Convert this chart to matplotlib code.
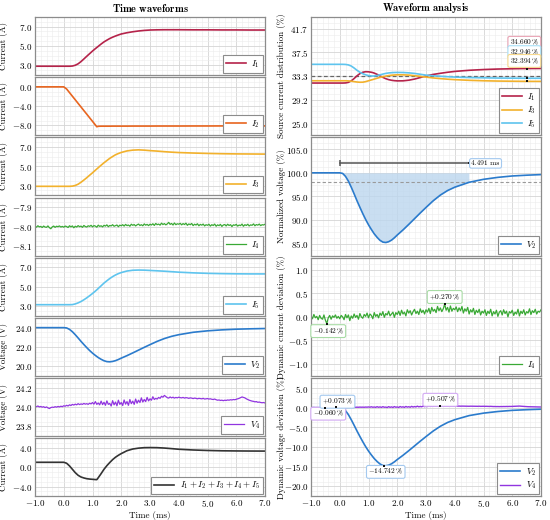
import numpy as np
import matplotlib
matplotlib.use("Agg")
import matplotlib.pyplot as plt
from matplotlib.ticker import FixedLocator, MultipleLocator, AutoMinorLocator, FuncFormatter

plt.rcParams.update({
    "font.family": "serif",
    "font.serif": ["cmr10"],
    "mathtext.fontset": "cm",
    "axes.unicode_minus": False,
    "axes.formatter.use_mathtext": True,
})

# ---- smooth waveforms (time in ms) ----
t = [-1.0, -0.5, 0.0, 0.1, 0.2, 0.3, 0.4, 0.5, 0.6, 0.7, 0.8, 0.9, 1.0, 1.1, 1.15,
     1.2, 1.3, 1.4, 1.5, 1.6, 1.7, 1.8, 1.9, 2.0, 2.2, 2.4, 2.6, 2.8, 3.0,
     3.25, 3.5, 3.75, 4.0, 4.5, 5.0, 5.5, 6.0, 6.5, 7.0]

i1 = [2.9, 2.9, 2.9, 2.9, 2.9, 2.92, 3.0, 3.15, 3.38, 3.65, 3.93, 4.2, 4.47, 4.72, 4.84,
      4.96, 5.2, 5.42, 5.6, 5.77, 5.91, 6.03, 6.14, 6.24, 6.37, 6.47, 6.55, 6.61, 6.65,
      6.67, 6.68, 6.68, 6.68, 6.67, 6.67, 6.66, 6.66, 6.65, 6.65]
i2 = [0.0, 0.0, 0.0, -0.45, -1.19, -1.94, -2.68, -3.43, -4.17, -4.92, -5.66, -6.41, -7.15, -7.9, -8.27,
      -8.17, -8.15, -8.15, -8.15, -8.15, -8.14, -8.14, -8.14, -8.14, -8.14, -8.13, -8.13, -8.13, -8.13,
      -8.12, -8.12, -8.12, -8.12, -8.11, -8.11, -8.1, -8.1, -8.1, -8.1]
i3 = [2.93, 2.93, 2.93, 2.93, 2.93, 2.95, 3.02, 3.15, 3.35, 3.58, 3.82, 4.08, 4.33, 4.6, 4.73,
      4.86, 5.12, 5.37, 5.6, 5.83, 6.02, 6.2, 6.33, 6.44, 6.6, 6.68, 6.71, 6.68, 6.63,
      6.58, 6.52, 6.47, 6.43, 6.38, 6.34, 6.31, 6.29, 6.28, 6.27]
i5 = [3.14, 3.14, 3.14, 3.14, 3.14, 3.15, 3.22, 3.33, 3.47, 3.65, 3.85, 4.07, 4.3, 4.55, 4.68,
      4.82, 5.1, 5.38, 5.62, 5.85, 6.05, 6.22, 6.36, 6.47, 6.63, 6.71, 6.73, 6.72, 6.69,
      6.65, 6.61, 6.56, 6.51, 6.44, 6.39, 6.36, 6.34, 6.33, 6.33]
v2 = [24.0, 24.0, 24.0, 23.97, 23.82, 23.58, 23.27, 22.93, 22.58, 22.25, 21.93, 21.63, 21.36, 21.12, 21.01,
      20.9, 20.72, 20.57, 20.48, 20.46, 20.5, 20.58, 20.7, 20.84, 21.1, 21.38, 21.67, 21.96, 22.24,
      22.58, 22.87, 23.1, 23.27, 23.52, 23.67, 23.77, 23.84, 23.88, 23.91]
i_sum = [1.05, 1.05, 1.05, 0.85, 0.3, -0.4, -1.1, -1.65, -2.0, -2.2, -2.35, -2.43, -2.48, -2.53, -2.55,
         -2.15, -1.3, -0.4, 0.35, 1.0, 1.6, 2.1, 2.5, 2.85, 3.45, 3.8, 3.98, 4.08, 4.1,
         4.08, 4.0, 3.88, 3.75, 3.6, 3.5, 3.43, 3.4, 3.38, 3.37]

# source current distribution (%)
share_i1 = [32.1, 32.1, 32.1, 32.1, 32.12, 32.22, 32.48, 32.9, 33.37, 33.76, 34.0, 34.1, 34.08, 34.0, 33.94,
            33.85, 33.63, 33.35, 33.1, 32.87, 32.7, 32.59, 32.52, 32.48, 32.49, 32.6, 32.8, 33.07, 33.35,
            33.62, 33.82, 34.0, 34.15, 34.35, 34.48, 34.57, 34.62, 34.66, 34.67]
share_i3 = [32.5, 32.5, 32.5, 32.5, 32.5, 32.48, 32.42, 32.35, 32.28, 32.24, 32.25, 32.35, 32.5, 32.65, 32.72,
            32.8, 32.95, 33.1, 33.22, 33.33, 33.42, 33.48, 33.52, 33.55, 33.55, 33.5, 33.4, 33.28, 33.15,
            33.0, 32.88, 32.78, 32.7, 32.58, 32.5, 32.45, 32.42, 32.394, 32.39]
share_i5 = [35.4, 35.4, 35.4, 35.4, 35.38, 35.3, 35.1, 34.75, 34.35, 34.0, 33.75, 33.55, 33.42, 33.35, 33.34,
            33.35, 33.42, 33.55, 33.68, 33.8, 33.88, 33.93, 33.96, 33.97, 33.96, 33.9, 33.8, 33.65, 33.5,
            33.38, 33.3, 33.22, 33.15, 33.07, 33.02, 32.98, 32.96, 32.946, 32.94]
share_mark_t = 6.5

# ---- noisy waveforms, sampled every 0.05 ms, given as deviation in % ----
i4_base = -8.0
i4_dev = [0.02, -0.04, 0.05, -0.02, 0.01, -0.06, 0.03, -0.03, -0.05, 0.04, -0.07, -0.142, -0.02, 0.03, -0.05, 0.02, -0.01, 0.04, -0.03, 0.01,
          -0.04, 0.03, 0.0, -0.06, 0.05, -0.02, 0.04, -0.08, 0.02, -0.03, 0.06, -0.01, 0.03, -0.05, 0.07, 0.0, -0.03, 0.05, 0.01, 0.08,
          -0.02, 0.06, 0.03, -0.04, 0.09, 0.01, 0.05, -0.02, 0.08, 0.03, 0.11, -0.01, 0.07, 0.04, 0.12, 0.02, 0.06, 0.1, -0.01, 0.09,
          0.05, 0.12, 0.03, 0.14, 0.06, 0.1, 0.02, 0.15, 0.08, 0.13, 0.04, 0.11, 0.16, 0.07, 0.12, 0.05, 0.17, 0.09, 0.14, 0.06,
          0.15, 0.1, 0.18, 0.07, 0.2, 0.12, 0.16, 0.09, 0.22, 0.13, 0.19, 0.11, 0.17, 0.270, 0.14, 0.2, 0.1, 0.23, 0.12, 0.18,
          0.15, 0.21, 0.11, 0.19, 0.13, 0.22, 0.08, 0.17, 0.12, 0.2, 0.06, 0.15, 0.1, 0.18, 0.05, 0.14, 0.09, 0.16, 0.04, 0.12,
          0.08, 0.15, 0.03, 0.12, 0.07, 0.16, 0.02, 0.11, 0.06, 0.14, 0.01, 0.1, 0.13, 0.04, 0.15, 0.07, 0.12, 0.0, 0.11, 0.08,
          0.14, 0.03, 0.1, 0.06, 0.16, 0.02, 0.12, 0.07, 0.15, 0.04, 0.11, 0.08, 0.17, 0.05, 0.13, 0.09, 0.16, 0.06, 0.12, 0.1,
          0.15]
v4_base = 24.0
v4_dev = [0.04, 0.02, 0.05, 0.01, 0.03, 0.0, 0.02, -0.02, 0.01, -0.03, -0.060, -0.02, 0.0, -0.01, 0.02, 0.0, 0.03, 0.01, 0.04, 0.02,
          0.06, 0.04, 0.08, 0.05, 0.1, 0.07, 0.12, 0.09, 0.13, 0.1, 0.15, 0.11, 0.14, 0.12, 0.16, 0.13, 0.15, 0.12, 0.17, 0.14,
          0.2, 0.13, 0.24, 0.12, 0.18, 0.1, 0.26, 0.11, 0.21, 0.08, 0.27, 0.12, 0.16, 0.05, 0.28, 0.1, 0.22, 0.06, 0.3, 0.12,
          0.2, 0.07, 0.31, 0.13, 0.24, 0.08, 0.33, 0.15, 0.26, 0.12, 0.35, 0.17, 0.3, 0.2, 0.4, 0.22, 0.33, 0.24, 0.42, 0.27,
          0.36, 0.3, 0.45, 0.33, 0.38, 0.35, 0.42, 0.38, 0.47, 0.43, 0.507, 0.46, 0.41, 0.39, 0.44, 0.4, 0.43, 0.39, 0.42, 0.4,
          0.43, 0.41, 0.4, 0.42, 0.39, 0.41, 0.4, 0.38, 0.4, 0.39, 0.37, 0.39, 0.38, 0.36, 0.38, 0.37, 0.36, 0.38, 0.35, 0.36,
          0.37, 0.35, 0.36, 0.34, 0.33, 0.35, 0.32, 0.3, 0.31, 0.29, 0.3, 0.28, 0.3, 0.29, 0.31, 0.3, 0.32, 0.31, 0.33, 0.32,
          0.34, 0.36, 0.38, 0.41, 0.44, 0.42, 0.4, 0.36, 0.33, 0.3, 0.28, 0.26, 0.25, 0.23, 0.24, 0.21, 0.22, 0.2, 0.19, 0.2,
          0.18]
t_fine = np.round(-1.0 + 0.05 * np.arange(len(i4_dev)), 2)

# ---- annotated values ----
settle_time = 4.491
settle_band = 98.0
v2_dev_marks_t = [-0.13, 1.55]
v2_dev_marks_v = [0.073, -14.742]

# derived series
t = np.array(t)
i4 = i4_base + abs(i4_base) * np.array(i4_dev) / 100
v4 = v4_base * (1 + np.array(v4_dev) / 100)
v2 = np.array(v2)
v2_norm = v2 / v2[0] * 100
v2_dev = v2_norm - 100

C_I1, C_I2, C_I3, C_I4, C_I5 = "#b5234a", "#e8651f", "#f2b12c", "#3aa935", "#5ec4ee"
C_V2, C_V4, C_SUM = "#2b7bcc", "#9135e0", "#333333"
L_I1, L_I3, L_I4, L_I5 = "#e9a3b4", "#f8d98c", "#a8dca5", "#a9e0f7"
L_V2, L_V4 = "#a4c9ef", "#d2a9f3"
SPINE = "#8c8c8c"
FS = 6.5

fig = plt.figure(figsize=(5.5, 5.2), dpi=100)
W, H = 550.0, 520.0


def add_ax(x, top, w, h):
    return fig.add_axes([x / W, 1 - (top + h) / H, w / W, h / H])


def style(ax, ylim, ystep, ylabel, bottom=False, lx=-0.117, anchor=None):
    lo, hi = ylim
    base = (lo + hi) / 2 if anchor is None else anchor
    ticks = [base + ystep * k for k in range(-12, 13) if lo < base + ystep * k < hi]
    minors = [base + ystep * k / 4 for k in range(-50, 51) if lo < base + ystep * k / 4 < hi]
    ax.set_xlim(-1, 7)
    ax.set_ylim(lo, hi)
    ax.xaxis.set_major_locator(MultipleLocator(1))
    ax.xaxis.set_minor_locator(AutoMinorLocator(5))
    ax.yaxis.set_major_locator(FixedLocator(ticks))
    ax.yaxis.set_minor_locator(FixedLocator(minors))
    fmt = FuncFormatter(lambda v, p: f"${v:.1f}$")
    ax.xaxis.set_major_formatter(fmt)
    ax.yaxis.set_major_formatter(fmt)
    ax.grid(which="major", color="#d4d4d4", lw=0.6)
    ax.grid(which="minor", color="#ececec", lw=0.4)
    ax.set_axisbelow(True)
    ax.tick_params(which="both", length=0, labelsize=FS, pad=2)
    ax.tick_params(axis="x", pad=1.5)
    ax.tick_params(labelbottom=bottom)
    for s in ax.spines.values():
        s.set_color(SPINE)
        s.set_linewidth(0.9)
    ax.set_ylabel(ylabel, fontsize=FS)
    ax.yaxis.set_label_coords(lx, 0.5)
    if bottom:
        ax.set_xlabel("Time (ms)", fontsize=FS, labelpad=1)


def legend(ax):
    leg = ax.legend(loc="lower right", fontsize=FS, fancybox=False, edgecolor=SPINE,
                    framealpha=1, borderaxespad=0.2, handlelength=2.2, borderpad=0.35,
                    labelspacing=0.25, handletextpad=0.6)
    leg.get_frame().set_linewidth(0.8)


def tag(ax, x, y, text, ec):
    ax.text(x, y, text, fontsize=5.3, ha="center", va="center",
            bbox=dict(boxstyle="round,pad=0.25", fc="white", ec=ec, lw=0.8))


def mark(ax, x, y):
    ax.plot([x], [y], "s", color="#111111", ms=1.8, mew=0, zorder=5)


# ---- left column ----
lax = [add_ax(35, 17 + i * 60.2, 230, 57.9) for i in range(8)]
left_specs = [
    (i1, t, C_I1, "$I_1$", (2, 8), 2, "Current (A)"),
    (i2, t, C_I2, "$I_2$", (-10, 2), 4, "Current (A)"),
    (i3, t, C_I3, "$I_3$", (2, 8), 2, "Current (A)"),
    (i4, t_fine, C_I4, "$I_4$", (-8.15, -7.85), 0.1, "Current (A)"),
    (i5, t, C_I5, "$I_5$", (2, 8), 2, "Current (A)"),
    (v2, t, C_V2, "$V_2$", (19, 25), 2, "Voltage (V)"),
    (v4, t_fine, C_V4, "$V_4$", (23.7, 24.3), 0.2, "Voltage (V)"),
    (i_sum, t, C_SUM, "$I_1 + I_2 + I_3 + I_4 + I_5$", (-6, 6), 4, "Current (A)"),
]
for k, (ax, (y, tt, c, lab, yl, ys, ylab)) in enumerate(zip(lax, left_specs)):
    lw = 0.9 if tt is t_fine else 1.2
    ax.plot(tt, y, color=c, lw=lw, label=lab)
    style(ax, yl, ys, ylab, bottom=(k == 7))
    legend(ax)

fig.text(150 / W, 1 - 8 / H, r"$\mathbf{Time\ waveforms}$", ha="center", va="center", fontsize=7.5)
fig.text(426 / W, 1 - 8 / H, r"$\mathbf{Waveform\ analysis}$", ha="center", va="center", fontsize=7.5)

# ---- right column ----
rax = [add_ax(311, 17 + j * 120.4, 230, 118.1) for j in range(4)]

# source current distribution
ax = rax[0]
ax.axhline(100 / 3, color="#666666", lw=0.9, ls=(0, (3, 2)))
ax.plot(t, share_i1, color=C_I1, lw=1.2, label="$I_1$")
ax.plot(t, share_i3, color=C_I3, lw=1.2, label="$I_3$")
ax.plot(t, share_i5, color=C_I5, lw=1.2, label="$I_5$")
style(ax, (100 / 3 - 62.5 / 6, 100 / 3 + 62.5 / 6), 100 / 24, "Source current distribution (%)", lx=-0.109)
legend(ax)
idx = list(t).index(share_mark_t)
for s, ec, ty in [(share_i1, L_I1, 39.2), (share_i5, L_I5, 37.55), (share_i3, L_I3, 36.0)]:
    mark(ax, share_mark_t, s[idx])
    tag(ax, 6.42, ty, f"${s[idx]:.3f}\\,\\%$", ec)

# normalized voltage
ax = rax[1]
ax.axhline(settle_band, color="#9a9a9a", lw=0.8, ls=(0, (3, 2)))
sel = (t > 0) & (t < settle_time)
tf = np.concatenate([[0.0], t[sel], [settle_time]])
vf = np.concatenate([[np.interp(0.0, t, v2_norm)], v2_norm[sel], [np.interp(settle_time, t, v2_norm)]])
ax.fill_between(tf, vf, 100, color="#bcd6ee", alpha=0.8, lw=0)
ax.plot(t, v2_norm, color=C_V2, lw=1.2, label="$V_2$")
ax.plot([0, settle_time], [102, 102], color="#555555", lw=1.1)
ax.plot([0], [102], "|", color="#555555", ms=5, mew=1.1)
ax.plot([settle_time], [102], "s", color="#222222", ms=1.8, mew=0)
tag(ax, settle_time + 0.58, 102, f"{settle_time:.3f} ms", L_V2)
style(ax, (82.5, 107.5), 5, "Normalized voltage (%)", lx=-0.109)
legend(ax)

# dynamic current deviation
ax = rax[2]
ax.plot(t_fine, i4_dev, color=C_I4, lw=0.9, label="$I_4$")
style(ax, (-1.25, 1.25), 0.5, "Dynamic current deviation (%)", lx=-0.109)
legend(ax)
d = np.array(i4_dev)
jmax, jmin = int(np.argmax(d)), int(np.argmin(d))
mark(ax, t_fine[jmax], d[jmax])
tag(ax, t_fine[jmax], d[jmax] + 0.15, f"${d[jmax]:+.3f}\\,\\%$", L_I4)
mark(ax, t_fine[jmin], d[jmin])
tag(ax, t_fine[jmin] + 0.05, d[jmin] - 0.16, f"${d[jmin]:+.3f}\\,\\%$", L_I4)

# dynamic voltage deviation
ax = rax[3]
ax.plot(t, v2_dev, color=C_V2, lw=1.2, label="$V_2$")
ax.plot(t_fine, v4_dev, color=C_V4, lw=1.0, label="$V_4$")
style(ax, (-22.5, 7.5), 5, "Dynamic voltage deviation (%)", bottom=True, lx=-0.109, anchor=0.0)
legend(ax)
d = np.array(v4_dev)
jmax, jmin = int(np.argmax(d)), int(np.argmin(d))
mark(ax, t_fine[jmax], d[jmax])
tag(ax, t_fine[jmax], d[jmax] + 1.5, f"${d[jmax]:+.3f}\\,\\%$", L_V4)
mark(ax, t_fine[jmin], d[jmin])
tag(ax, t_fine[jmin] + 0.1, d[jmin] - 1.45, f"${d[jmin]:+.3f}\\,\\%$", L_V4)
for mx, mv, dy in zip(v2_dev_marks_t, v2_dev_marks_v, [1.45, -1.55]):
    mark(ax, mx, mv)
    tag(ax, mx + 0.05, mv + dy, f"${mv:+.3f}\\,\\%$", L_V2)

fig.savefig("out.png", dpi=100)
